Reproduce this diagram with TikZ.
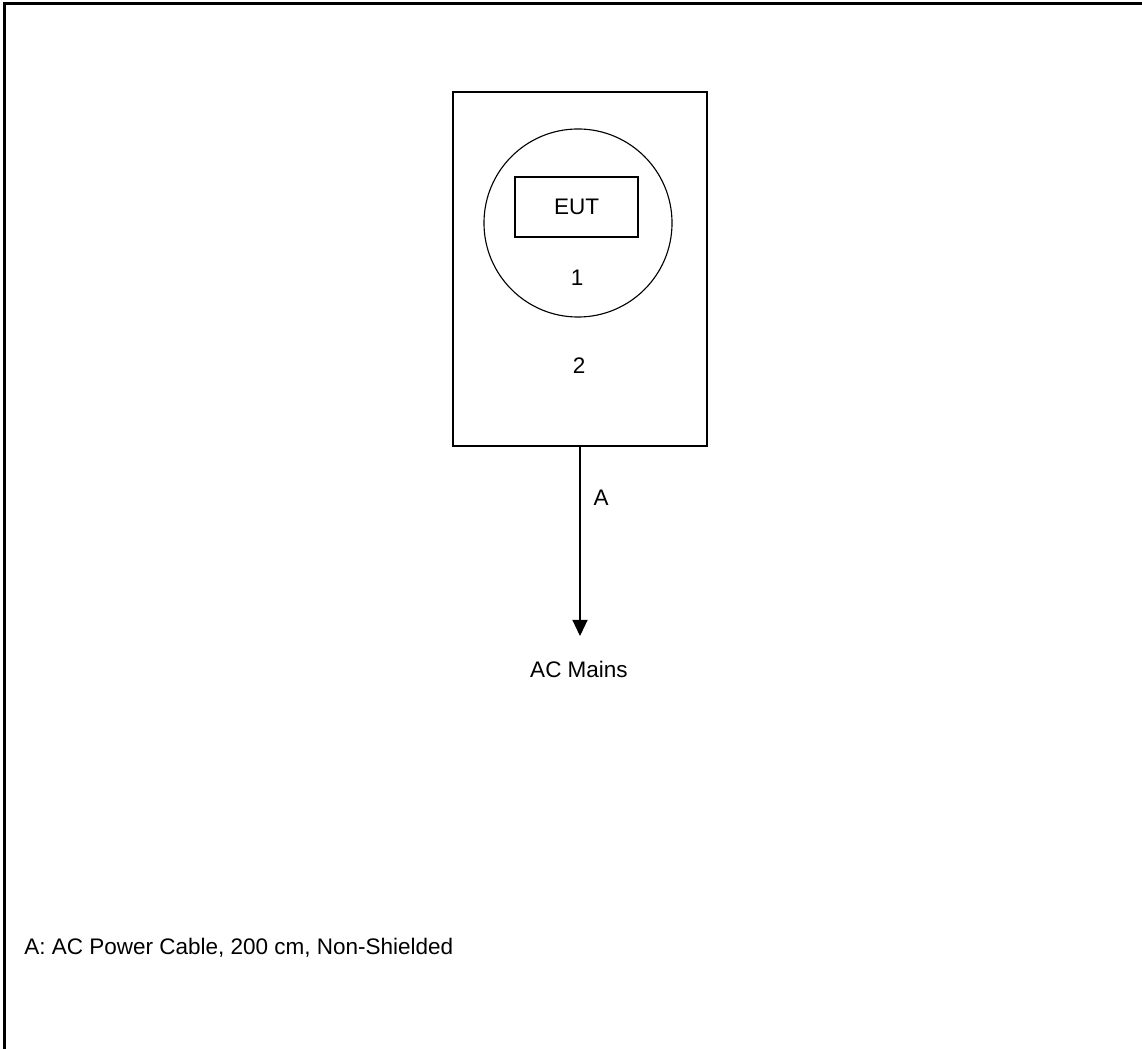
\documentclass[tikz,border=0pt]{standalone}
\usepackage{fontspec}
\setmainfont{Liberation Sans}
\usetikzlibrary{arrows.meta,positioning}

\begin{document}
\begin{tikzpicture}[x=0.025cm,y=-0.025cm,
  every node/.style={font=\fontsize{16}{19}\selectfont,inner sep=0pt},
  part/.style={draw,line width=0.8pt}]
\useasboundingbox (0,0) rectangle (1142,1049);

% Page frame (top and left only)
\draw[line width=1.5pt] (1142,3.5) -- (4.5,3.5) -- (4.5,1049);

% Support and EUT
\node[part,rectangle,minimum width=6.35cm,minimum height=8.85cm] (holder) at (580,269) {};
\node[part,circle,minimum size=4.7cm] (ring) at (578,223) {};
\node[part,rectangle,minimum width=3.075cm,minimum height=1.5cm] (eut) at (576.5,207) {EUT};
\node (one) at (577,278) {1};
\node (two) at (579,366) {2};

% Power cable
\node (mains) at (579,669) {AC Mains};
\coordinate (tip) at (580,636);
\draw[line width=0.8pt,-{Triangle[width=0.375cm,length=0.4cm]}] (holder.south) -- (tip);
\node (cableA) at (601,498) {A};

% Legend
\node[anchor=west] (legend) at (24,948) {A: AC Power Cable, 200 cm, Non-Shielded};
\end{tikzpicture}
\end{document}
